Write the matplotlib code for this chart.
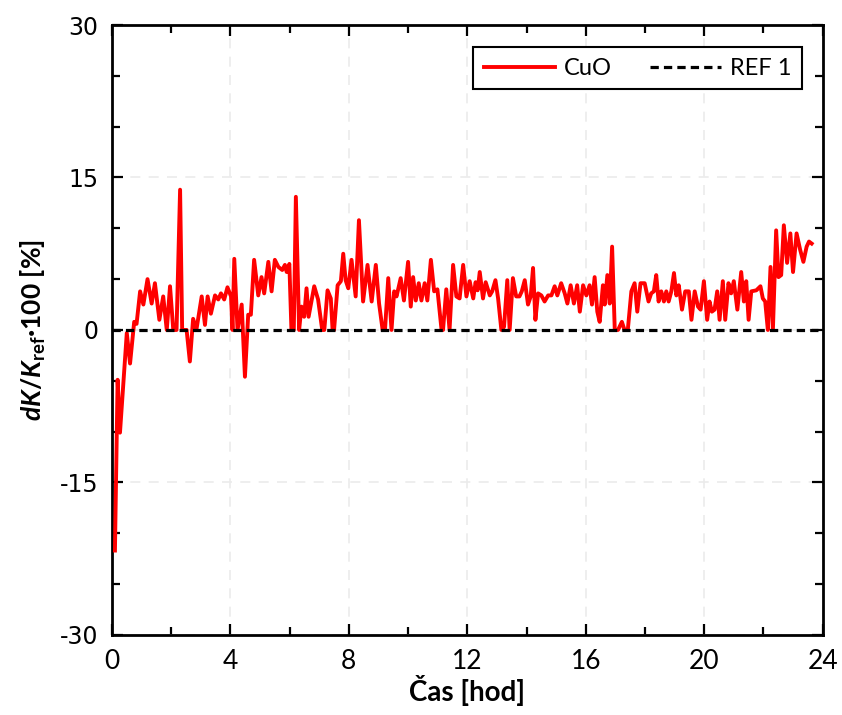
import matplotlib
matplotlib.use("Agg")
import matplotlib.pyplot as plt
from matplotlib.ticker import MultipleLocator

# time [h] and dK/Kref*100 [%]
hours = [0.10, 0.19, 0.27, 0.50, 0.61, 0.75, 0.83, 0.95, 1.06, 1.20, 1.34, 1.45,
         1.60, 1.73, 1.85, 1.96, 2.07, 2.18, 2.30, 2.37, 2.52, 2.63, 2.74, 2.85,
         3.03, 3.14, 3.23, 3.34, 3.48, 3.59, 3.68, 3.79, 3.90, 4.02, 4.07, 4.13,
         4.24, 4.38, 4.49, 4.60, 4.69, 4.80, 4.94, 5.05, 5.14, 5.28, 5.39, 5.50,
         5.62, 5.75, 5.84, 5.90, 5.99, 6.06, 6.14, 6.21, 6.32, 6.40, 6.49, 6.57,
         6.64, 6.83, 6.96, 7.10, 7.17, 7.28, 7.39, 7.45, 7.50, 7.62, 7.73, 7.81,
         7.89, 7.98, 8.09, 8.23, 8.34, 8.48, 8.63, 8.77, 8.91, 9.02, 9.14, 9.22,
         9.33, 9.44, 9.53, 9.61, 9.75, 9.86, 10.00, 10.09, 10.17, 10.26, 10.36,
         10.45, 10.56, 10.65, 10.77, 10.88, 10.99, 11.13, 11.18, 11.29, 11.40,
         11.52, 11.63, 11.74, 11.86, 11.97, 12.08, 12.20, 12.28, 12.35, 12.42,
         12.53, 12.62, 12.76, 12.84, 12.95, 13.04, 13.15, 13.24, 13.35, 13.43,
         13.54, 13.65, 13.76, 13.84, 13.94, 14.05, 14.14, 14.22, 14.30, 14.39,
         14.50, 14.61, 14.73, 14.84, 14.95, 15.04, 15.17, 15.29, 15.38, 15.49,
         15.60, 15.71, 15.80, 15.91, 16.02, 16.13, 16.21, 16.30, 16.39, 16.47,
         16.58, 16.64, 16.73, 16.81, 16.89, 16.98, 17.09, 17.22, 17.31, 17.42,
         17.54, 17.65, 17.74, 17.85, 17.99, 18.12, 18.21, 18.30, 18.38, 18.46,
         18.55, 18.64, 18.72, 18.80, 18.89, 18.98, 19.06, 19.14, 19.25, 19.36,
         19.48, 19.57, 19.68, 19.79, 19.88, 19.99, 20.10, 20.18, 20.26, 20.35,
         20.44, 20.52, 20.63, 20.71, 20.82, 20.91, 21.00, 21.12, 21.25, 21.34,
         21.42, 21.50, 21.59, 21.76, 21.90, 21.98, 22.06, 22.15, 22.24, 22.32,
         22.43, 22.51, 22.60, 22.69, 22.80, 22.91, 23.00, 23.12, 23.24, 23.35,
         23.46, 23.54, 23.63]
cuo = [-21.7, -4.9, -10.1, -0.3, -3.3, 0.8, 0.6, 3.8, 2.5, 5.0, 2.6, 4.6,
       1.0, 3.3, 0.0, 4.3, 0.0, 0.0, 13.8, 0.0, 0.0, -3.1, 1.1, 0.0,
       3.3, 0.5, 3.3, 1.6, 3.4, 3.0, 3.6, 3.0, 4.2, 3.3, 0.0, 7.0,
       0.0, 2.5, -4.6, 1.5, 1.5, 6.9, 3.4, 5.2, 3.6, 6.7, 3.8, 6.9,
       6.2, 5.9, 6.4, 5.7, 6.5, 0.0, 0.0, 13.1, 0.0, 2.3, 1.3, 4.1,
       1.3, 4.3, 3.0, 0.0, 0.0, 3.9, 3.1, 0.0, 0.0, 4.4, 4.8, 7.5,
       4.9, 4.1, 6.9, 3.3, 10.8, 2.8, 6.4, 2.8, 6.4, 2.6, 0.0, 0.0,
       5.1, 0.0, 3.8, 3.3, 5.1, 2.9, 6.7, 2.3, 5.2, 2.9, 4.6,
       2.9, 4.6, 2.9, 6.9, 3.8, 4.0, 0.0, 0.0, 4.0, 0.0,
       6.4, 3.3, 3.1, 6.4, 3.3, 4.8, 3.1, 4.7, 3.9, 5.7,
       3.1, 4.7, 3.4, 3.8, 4.9, 3.1, 0.0, 0.3, 4.9, 0.0,
       5.1, 3.3, 3.3, 3.8, 4.9, 2.5, 3.3, 6.1, 1.0, 3.6,
       3.4, 2.8, 3.4, 3.4, 4.3, 3.4, 4.6, 3.6, 2.6, 4.4,
       2.6, 4.4, 1.8, 4.4, 3.4, 4.4, 2.5, 5.2, 1.8, 0.8,
       4.4, 2.5, 5.4, 2.6, 8.2, 0.0, 0.0, 0.8, 0.0, 0.0,
       3.8, 4.6, 1.8, 4.6, 4.6, 2.8, 3.6, 3.8, 5.4, 2.8,
       3.8, 2.8, 3.8, 2.8, 3.8, 5.6, 3.4, 4.4, 2.0, 3.8,
       3.8, 1.0, 3.8, 2.3, 2.0, 4.8, 1.0, 2.8, 1.8, 2.0,
       3.8, 1.0, 4.8, 1.0, 4.6, 3.6, 4.8, 2.0, 5.7, 2.8,
       4.8, 1.0, 3.8, 3.9, 4.3, 3.1, 2.8, 0.0, 6.2, 0.0,
       9.8, 5.2, 5.4, 10.3, 6.6, 9.5, 5.7, 9.5, 7.9, 6.7,
       8.2, 8.7, 8.5]
ref_x = [0, 24]
ref_y = [0, 0]
y_ticks = [-30, -15, 0, 15, 30]
y_labels = ["-30", "-15", "0", "15", "30"]

plt.rcParams['font.family'] = ['Lato', 'DejaVu Sans']
plt.rcParams['mathtext.fontset'] = 'custom'
plt.rcParams['mathtext.rm'] = 'Lato:bold'
plt.rcParams['mathtext.it'] = 'Lato:bold:italic'

fig = plt.figure(figsize=(8.42, 7.15), dpi=100)
ax = fig.add_axes([0.133, 0.112, 0.844, 0.853])

ax.plot(hours, cuo, c="red", lw=2.8, label="CuO", zorder=3)
ax.plot(ref_x, ref_y, c="black", lw=2.3, ls=(0, (2.6, 1.6)), label="REF 1", zorder=4)

ax.set_xlim(0, 24)
ax.set_ylim(-30, 30)
ax.xaxis.set_major_locator(MultipleLocator(4))
ax.xaxis.set_minor_locator(MultipleLocator(2))
ax.set_yticks(y_ticks)
ax.set_yticklabels(y_labels, fontfamily="DejaVu Sans", fontsize=17)
ax.yaxis.set_minor_locator(MultipleLocator(5))

ax.grid(which="major", color="#ebebeb", ls=(0, (6, 5)), lw=1.2, zorder=0)
ax.tick_params(which="both", direction="in", top=True, right=True, width=1.6)
ax.tick_params(which="major", length=8)
ax.tick_params(which="minor", length=6)
ax.tick_params(axis="x", labelsize=19, pad=10)
ax.tick_params(axis="y", pad=10)
for s in ax.spines.values():
    s.set_linewidth(2)

ax.set_xlabel("Čas [hod]", fontsize=20, fontweight="bold", labelpad=1)
ax.set_ylabel(r"$dK/K_{\mathrm{ref}}$·100 [%]", fontsize=19, fontweight="bold", labelpad=8)

leg = ax.legend(loc="upper right", ncol=2, fontsize=17, frameon=True, fancybox=False,
                edgecolor="black", framealpha=1, handlelength=3.0, columnspacing=1.6,
                handletextpad=0.4, borderpad=0.45, bbox_to_anchor=(0.988, 0.983))
leg.get_frame().set_linewidth(1.5)

fig.savefig("out.png", dpi=100)
